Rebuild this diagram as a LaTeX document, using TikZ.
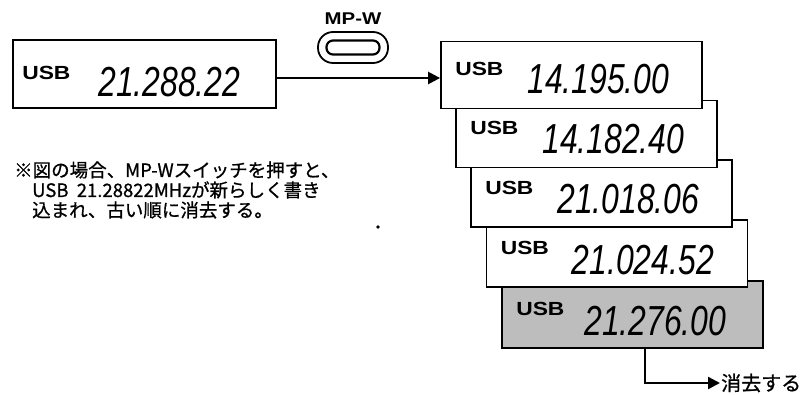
\documentclass[tikz,border=0pt]{standalone}
\usepackage{fontspec}
\usetikzlibrary{calc,arrows.meta}
\newfontfamily\numfont{Liberation Sans}[FakeStretch=0.76]
\newfontfamily\usbfont{Liberation Sans}[FakeStretch=1.2]
\newfontfamily\jpfont{Noto Sans CJK JP}[FakeBold=0.8]
\begin{document}
\begin{tikzpicture}[x=1pt,y=-1pt,
  disp/.style={draw, line width=1.8pt, minimum width=261pt, minimum height=67pt, inner sep=0pt},
  usbtxt/.style={inner sep=0pt, anchor=base west, font=\usbfont\bfseries\fontsize{19}{20}\selectfont},
  numtxt/.style={inner sep=0pt, anchor=base west, font=\numfont\itshape\fontsize{42}{44}\selectfont},
  note/.style={inner sep=0pt, anchor=base west, font=\jpfont\fontsize{18.5}{20}\selectfont},
  conn/.style={line width=2.4pt, -{Triangle[length=12pt,width=12pt]}}
]
\useasboundingbox (0,0) rectangle (811,395);

% left display
\node[disp, minimum width=263pt, minimum height=68pt] (left) at (144.5,74) {};
\node[usbtxt] (lu) at ($(left.north west)+(10,40)$) {USB};
\node[numtxt] (ln) at ($(left.north west)+(86,57)$) {21.288.22};

% MP-W button
\node[inner sep=0pt, font=\usbfont\bfseries\fontsize{17}{18}\selectfont] (mpw) at (353,19) {MP-W};
\node[draw, line width=1.8pt, rounded corners=15pt, minimum width=70pt, minimum height=31pt, inner sep=0pt] (btn) at (353,47.5) {};
\node[draw, line width=2.2pt, rounded corners=6.5pt, minimum width=53pt, minimum height=14pt, inner sep=0pt] (btnin) at (btn.center) {};

% right stack (back to front)
\node[disp, fill=black!26] (b5) at (632.5,314.5) {};
\node[usbtxt] (u5) at ($(b5.north west)+(15,35)$) {USB};
\node[numtxt] (n5) at ($(b5.north west)+(83,55)$) {21.276.00};

\node[disp, fill=white] (b4) at (617,253.5) {};
\node[usbtxt] (u4) at ($(b4.north west)+(15,35)$) {USB};
\node[numtxt] (n4) at ($(b4.north west)+(86,55)$) {21.024.52};

\node[disp, fill=white] (b3) at (601.5,193.5) {};
\node[usbtxt] (u3) at ($(b3.north west)+(15,35)$) {USB};
\node[numtxt] (n3) at ($(b3.north west)+(87,54)$) {21.018.06};

\node[disp, fill=white] (b2) at (586.5,134) {};
\node[usbtxt] (u2) at ($(b2.north west)+(15,35)$) {USB};
\node[numtxt] (n2) at ($(b2.north west)+(87,54)$) {14.182.40};

\node[disp, fill=white] (b1) at (571.5,75) {};
\node[usbtxt] (u1) at ($(b1.north west)+(15,35)$) {USB};
\node[numtxt] (n1) at ($(b1.north west)+(87,53)$) {14.195.00};

% arrow from left display into stack
\draw[conn] ([yshift=-4pt]left.east) -- ([yshift=-4pt]left.east -| b1.west);

% erase connector
\node[note, anchor=west, inner sep=1pt, font=\jpfont\fontsize{20}{22}\selectfont] (erase) at (720,383) {消去する};
\coordinate (e5) at ($(b5.south west)+(144,0)$);
\draw[conn] (e5) |- (erase.west);

% note text
\node[note] (t1) at (14,177) {※図の場合、MP-Wスイッチを押すと、};
\node[note] (t2) at (32,197) {USB\ \ 21.28822MHzが新らしく書き};
\node[note] (t3) at (32,217) {込まれ、古い順に消去する。};

% small dot
\fill (378,227) circle (1.8pt);
\end{tikzpicture}
\end{document}
